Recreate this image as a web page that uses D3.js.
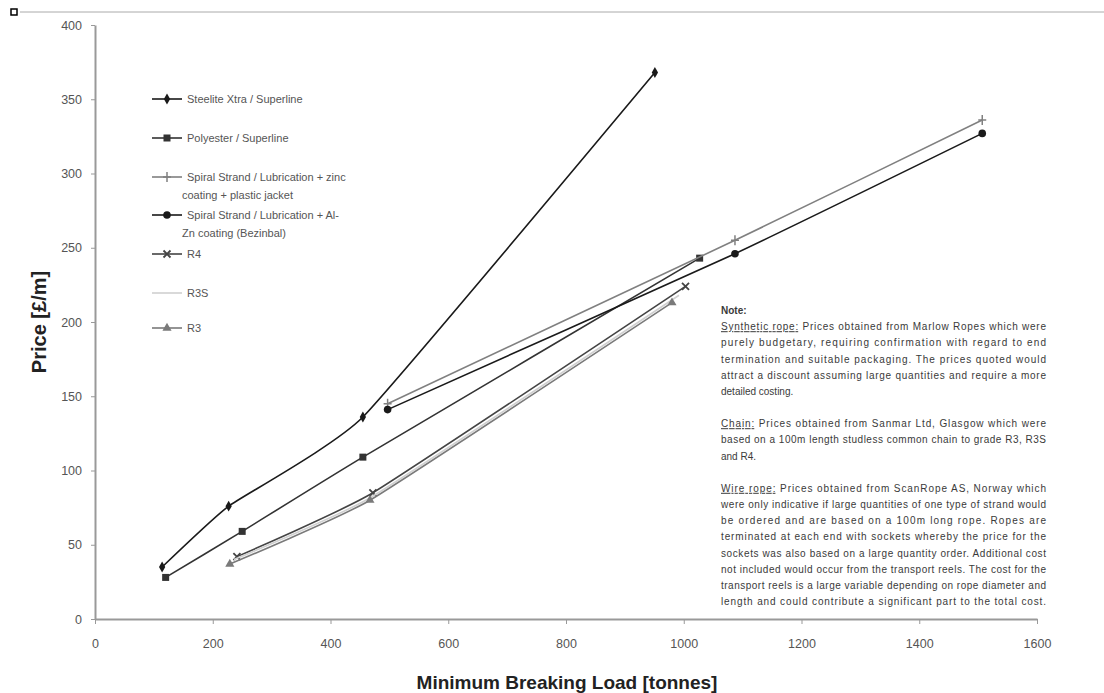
<!DOCTYPE html>
<html>
<head>
<meta charset="utf-8">
<script src="https://cdn.jsdelivr.net/npm/d3@7"></script>
<style>
  body { margin: 0; background: #fff; }
  svg { display: block; font-family: "Liberation Sans", Arial, sans-serif; }
  .tick text { fill: #555; font-size: 12.5px; }
  .axis path, .axis line { stroke: #999; }
  .legend text { fill: #555; font-size: 11px; }
  .note text { fill: #3a3a3a; font-size: 10px; }
</style>
</head>
<body>
<script>
// tick labels
const xTicks = [0, 200, 400, 600, 800, 1000, 1200, 1400, 1600];
const yTicks = [0, 50, 100, 150, 200, 250, 300, 350, 400];

// series values (load in tonnes, price in £/m)
const steeliteX = [114, 227, 455, 951];
const steeliteY = [35, 76, 136, 368];
const polyesterX = [120, 250, 455, 1027];
const polyesterY = [28, 59, 109, 243];
const spiralZincX = [497, 1087, 1507];
const spiralZincY = [145, 255, 336];
const spiralAlZnX = [497, 1087, 1507];
const spiralAlZnY = [141, 246, 327];
const r4X = [241, 472, 1003];
const r4Y = [42, 85, 224];
const r3sX = [236, 469, 992];
const r3sY = [40, 82, 218];
const r3X = [229, 467, 980];
const r3Y = [37, 80, 213];

const seriesNames = [
  ['Steelite Xtra / Superline'],
  ['Polyester / Superline'],
  ['Spiral Strand / Lubrication + zinc', 'coating + plastic jacket'],
  ['Spiral Strand / Lubrication + Al-', 'Zn coating (Bezinbal)'],
  ['R4'],
  ['R3S'],
  ['R3'],
];

const noteLines = [
  [{ t: 'Note:' }],
  [{ t: 'Synthetic rope:', u: true }, { t: ' Prices obtained from Marlow Ropes which were' }],
  [{ t: 'purely budgetary, requiring confirmation with regard to end' }],
  [{ t: 'termination and suitable packaging. The prices quoted would' }],
  [{ t: 'attract a discount assuming large quantities and require a more' }],
  [{ t: 'detailed costing.' }],
  null,
  [{ t: 'Chain:', u: true }, { t: ' Prices obtained from Sanmar Ltd, Glasgow which were' }],
  [{ t: 'based on a 100m length studless common chain to grade R3, R3S' }],
  [{ t: 'and R4.' }],
  null,
  [{ t: 'Wire rope:', u: true }, { t: ' Prices obtained from ScanRope AS, Norway which' }],
  [{ t: 'were only indicative if large quantities of one type of strand would' }],
  [{ t: 'be ordered and are based on a 100m long rope. Ropes are' }],
  [{ t: 'terminated at each end with sockets whereby the price for the' }],
  [{ t: 'sockets was also based on a large quantity order. Additional cost' }],
  [{ t: 'not included would occur from the transport reels.  The cost for the' }],
  [{ t: 'transport reels is a large variable depending on rope diameter and' }],
  [{ t: 'length and could contribute a significant part to the total cost.' }],
];
const noteLast = [0, 5, 9];

const series = [
  { xs: steeliteX, ys: steeliteY, color: '#1a1a1a', marker: 'diamond' },
  { xs: polyesterX, ys: polyesterY, color: '#333', marker: 'square' },
  { xs: spiralZincX, ys: spiralZincY, color: '#808080', marker: 'plus' },
  { xs: spiralAlZnX, ys: spiralAlZnY, color: '#1a1a1a', marker: 'circle' },
  { xs: r4X, ys: r4Y, color: '#444', marker: 'cross' },
  { xs: r3sX, ys: r3sY, color: '#d0d0d0', marker: 'none' },
  { xs: r3X, ys: r3Y, color: '#7a7a7a', marker: 'triangle' },
].map((s, i) => ({ ...s, name: seriesNames[i], points: s.xs.map((x, j) => [x, s.ys[j]]) }));

const W = 1104, H = 693;
const svg = d3.select('body').append('svg').attr('width', W).attr('height', H);

const x = d3.scaleLinear().domain([0, 1600]).range([95, 1037]);
const y = d3.scaleLinear().domain([0, 400]).range([619, 25]);

// frame remnants at the top
svg.append('line').attr('x1', 20).attr('x2', W).attr('y1', 12).attr('y2', 12)
  .attr('stroke', '#aaa').attr('stroke-width', 1);
svg.append('rect').attr('x', 11).attr('y', 9).attr('width', 6).attr('height', 6)
  .attr('fill', '#fff').attr('stroke', '#000').attr('stroke-width', 1.5);

// axes
svg.append('g').attr('class', 'axis')
  .attr('transform', `translate(0,${y(0)})`)
  .call(d3.axisBottom(x).tickValues(xTicks).tickFormat(d3.format('d'))
    .tickSize(5).tickPadding(15).tickSizeOuter(0))
  .call(g => g.select('.domain').attr('stroke-width', 2));
svg.append('g').attr('class', 'axis')
  .attr('transform', `translate(${x(0)},0)`)
  .call(d3.axisLeft(y).tickValues(yTicks).tickFormat(d3.format('d'))
    .tickSize(4).tickPadding(9).tickSizeOuter(0))
  .call(g => g.select('.domain').attr('stroke-width', 2));

svg.append('text')
  .attr('transform', `translate(46,${(y(0) + y(400)) / 2}) rotate(-90)`)
  .attr('text-anchor', 'middle')
  .attr('font-size', 20).attr('font-weight', 'bold').attr('fill', '#222')
  .text('Price [£/m]');
svg.append('text')
  .attr('x', 567).attr('y', 689)
  .attr('text-anchor', 'middle')
  .attr('font-size', 19).attr('font-weight', 'bold').attr('fill', '#222')
  .text('Minimum Breaking Load [tonnes]');

// markers
function drawMarker(sel, type, color) {
  if (type === 'diamond') {
    sel.append('path').attr('d', d3.symbol(d3.symbolDiamond, 34)()).attr('fill', color);
  } else if (type === 'square') {
    sel.append('rect').attr('x', -3.5).attr('y', -3.5).attr('width', 7).attr('height', 7).attr('fill', color);
  } else if (type === 'circle') {
    sel.append('circle').attr('r', 3.8).attr('fill', color);
  } else if (type === 'triangle') {
    sel.append('path').attr('d', d3.symbol(d3.symbolTriangle, 36)()).attr('fill', color);
  } else if (type === 'plus') {
    sel.append('path').attr('d', 'M-4,0H4M0,-5V5').attr('stroke', color).attr('stroke-width', 1.5);
  } else if (type === 'cross') {
    sel.append('path').attr('d', 'M-3.5,-3.5L3.5,3.5M-3.5,3.5L3.5,-3.5').attr('stroke', color).attr('stroke-width', 1.8);
  }
}

const line = d3.line().x(d => x(d[0])).y(d => y(d[1])).curve(d3.curveCardinal.tension(0.6));

const sg = svg.append('g').attr('class', 'series')
  .selectAll('g').data(series).join('g');
sg.append('path')
  .attr('d', d => line(d.points))
  .attr('fill', 'none')
  .attr('stroke', d => d.color)
  .attr('stroke-width', 1.6);
sg.each(function (d) {
  d3.select(this).selectAll('g.pt').data(d.points).join('g')
    .attr('class', 'pt')
    .attr('transform', p => `translate(${x(p[0])},${y(p[1])})`)
    .each(function () { drawMarker(d3.select(this), d.marker, d.color); });
});

// legend
const legendY = [99, 138, 177, 215, 254, 293, 328];
const lg = svg.append('g').attr('class', 'legend')
  .selectAll('g').data(series).join('g')
  .attr('transform', (d, i) => `translate(152,${legendY[i]})`);
lg.append('line').attr('x1', 0).attr('x2', 30).attr('y1', 0).attr('y2', 0)
  .attr('stroke', d => d.color).attr('stroke-width', 1.6);
lg.append('g').attr('transform', 'translate(15,0)')
  .each(function (d) { drawMarker(d3.select(this), d.marker, d.color); });
lg.each(function (d) {
  d3.select(this).selectAll('text').data(d.name).join('text')
    .attr('x', (t, j) => j === 0 ? 35 : 30)
    .attr('y', (t, j) => 4 + j * 18)
    .text(t => t);
});

// note
const note = svg.append('g').attr('class', 'note');
let ny = 314;
noteLines.forEach((ln, i) => {
  if (!ln) { ny += 16; return; }
  const t = note.append('text').attr('x', 721).attr('y', ny);
  if (!noteLast.includes(i)) t.attr('textLength', 325).attr('lengthAdjust', 'spacing');
  if (i === 0) t.attr('font-weight', 'bold');
  ln.forEach(s => {
    const ts = t.append('tspan').text(s.t);
    if (s.u) ts.attr('text-decoration', 'underline');
  });
  ny += 16.2;
});
</script>
</body>
</html>
